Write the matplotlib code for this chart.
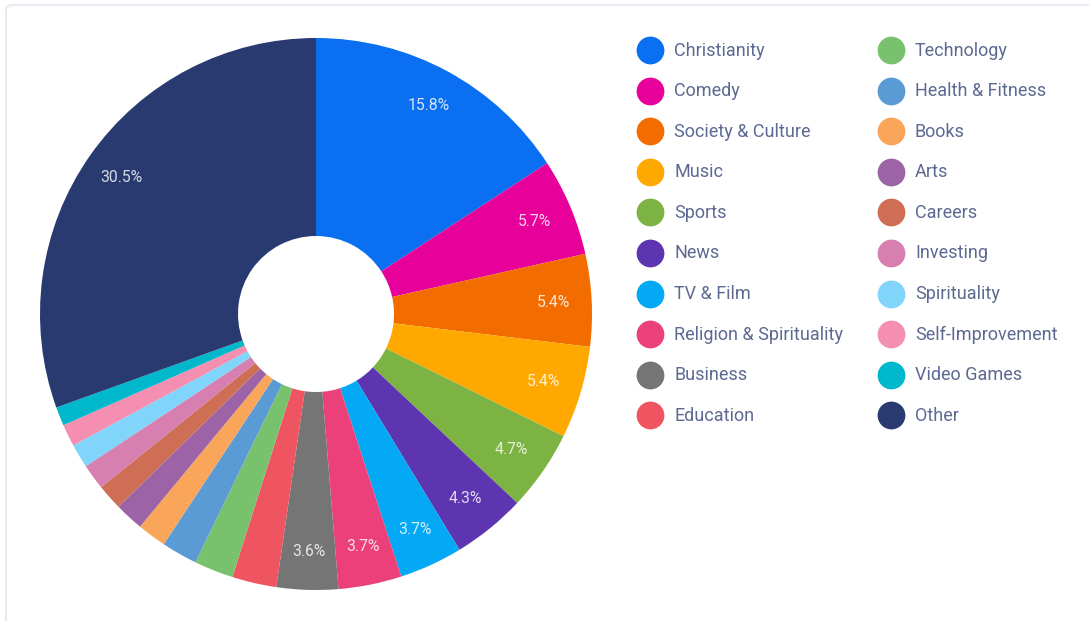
import matplotlib.pyplot as plt
from matplotlib.patches import FancyBboxPatch

plt.rcParams['font.family'] = ['Roboto', 'DejaVu Sans']

categories = ['Christianity', 'Comedy', 'Society & Culture', 'Music', 'Sports',
              'News', 'TV & Film', 'Religion & Spirituality', 'Business', 'Education',
              'Technology', 'Health & Fitness', 'Books', 'Arts', 'Careers',
              'Investing', 'Spirituality', 'Self-Improvement', 'Video Games', 'Other']
shares = [15.8, 5.7, 5.4, 5.4, 4.7, 4.3, 3.7, 3.7, 3.6, 2.6,
          2.3, 2.1, 1.7, 1.7, 1.5, 1.5, 1.4, 1.3, 1.1, 30.5]
colors = ['#0a6ff0', '#e8009a', '#f26c00', '#ffa800', '#7cb342',
          '#5e35b1', '#03a9f4', '#ec407a', '#757575', '#ef5560',
          '#79c26d', '#5b9bd5', '#f9a65a', '#9c64a6', '#cd6e55',
          '#d67fb0', '#81d4fa', '#f48fb1', '#00b8cc', '#283a70']

W, H = 1089, 621
fig = plt.figure(figsize=(W / 100, H / 100), dpi=100)

# card background
bg = fig.add_axes([0, 0, 1, 1])
bg.set_xlim(0, W)
bg.set_ylim(H, 0)
bg.axis('off')
bg.add_patch(FancyBboxPatch((6, 5), W + 20, H + 20,
                            boxstyle='round,pad=0,rounding_size=6',
                            fc='white', ec='#e9e9f2', lw=1.5))

# donut
cx, cy, r = 316, 314, 276
ax = fig.add_axes([(cx - r) / W, (H - cy - r) / H, 2 * r / W, 2 * r / H])
wedges, _, autotexts = ax.pie(
    shares, colors=colors, startangle=90, counterclock=False,
    wedgeprops=dict(width=1 - 78 / r, linewidth=0),
    autopct=lambda p: f'{p:.1f}%' if p >= 3.5 else '',
    pctdistance=0.86, textprops=dict(color='white', fontsize=11.3, alpha=0.82))
ax.set_xlim(-1, 1)
ax.set_ylim(-1, 1)
ax.set_aspect('equal')

# legend in two columns
half = 10
for i, (name, c) in enumerate(zip(categories, colors)):
    col, row = divmod(i, half)
    x0 = 650 + col * 241
    y0 = 50 + row * 40.6
    bg.scatter([x0], [y0], s=400, color=c, zorder=3, linewidths=0)
    bg.text(x0 + 24, y0 + 0.5, name, va='center', ha='left', fontsize=13,
            color='#5d6991', zorder=3)

fig.savefig('out.png', dpi=100)
